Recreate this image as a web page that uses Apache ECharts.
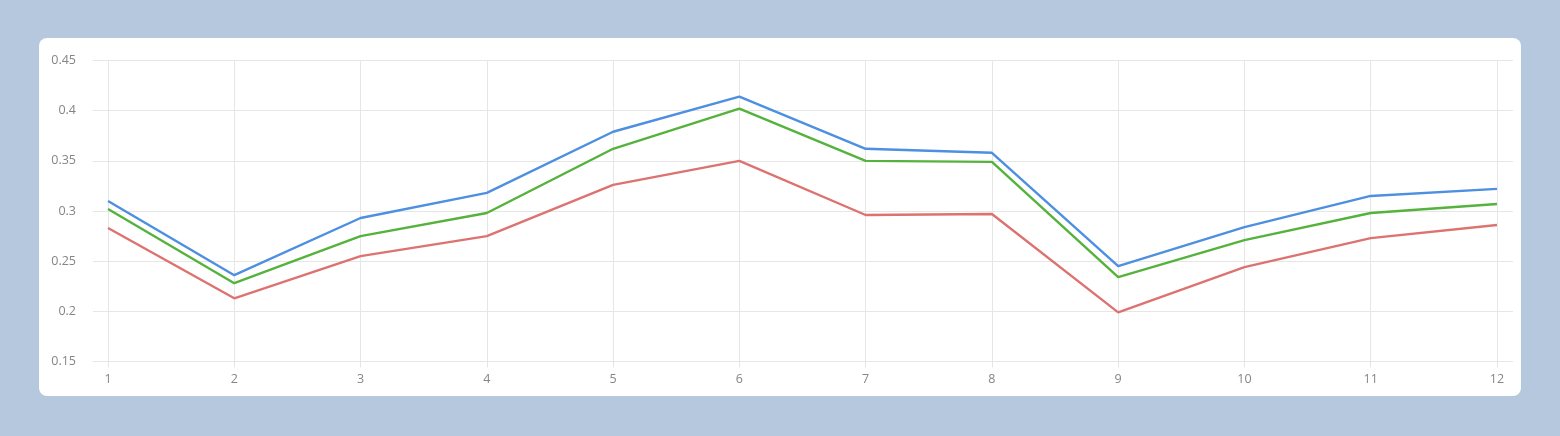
<!DOCTYPE html>
<html>
<head>
<meta charset="utf-8">
<script src="https://cdn.jsdelivr.net/npm/echarts@6/dist/echarts.min.js"></script>
<style>
html,body{margin:0;padding:0;background:#b5c8dd;}
#chart{width:1560px;height:436px;}
</style>
</head>
<body>
<div id="chart"></div>
<script>
const categories = ['1','2','3','4','5','6','7','8','9','10','11','12'];
const blueSeries  = [0.310, 0.236, 0.293, 0.318, 0.379, 0.414, 0.362, 0.358, 0.245, 0.284, 0.315, 0.322];
const greenSeries = [0.302, 0.228, 0.275, 0.298, 0.362, 0.402, 0.350, 0.349, 0.234, 0.271, 0.298, 0.307];
const redSeries   = [0.283, 0.213, 0.255, 0.275, 0.326, 0.350, 0.296, 0.297, 0.199, 0.244, 0.273, 0.286];
const yMin = 0.15, yMax = 0.45, yStep = 0.05;

const chart = echarts.init(document.getElementById('chart'), null, {renderer:'canvas'});
const gridColor = '#e6e6e6';
const labelStyle = {color:'#858585', fontSize:12.5, fontFamily:'"Open Sans", sans-serif'};
const lineSeries = (name, data, color) => ({
  name, type:'line', xAxisIndex:1, yAxisIndex:1, data,
  symbol:'none', lineStyle:{color, width:2.4}, itemStyle:{color}, z:3
});
chart.setOption({
  backgroundColor:'#b5c8dd',
  animation:false,
  graphic:[{
    type:'rect', left:39, top:38, z:-10,
    shape:{width:1482, height:358, r:8},
    style:{fill:'#ffffff'}
  }],
  grid:[
    {left:93, right:47, top:60.5, bottom:74.5},
    {left:108, right:63, top:60.5, bottom:74.5}
  ],
  xAxis:[
    {type:'category', gridIndex:0, data:categories, show:false},
    {type:'category', gridIndex:1, data:categories, boundaryGap:false,
     axisLine:{show:false},
     axisTick:{show:true, length:6, lineStyle:{color:gridColor}},
     axisLabel:Object.assign({margin:11}, labelStyle),
     splitLine:{show:true, lineStyle:{color:gridColor, width:1}}}
  ],
  yAxis:[
    {type:'value', gridIndex:0, min:yMin, max:yMax, interval:yStep,
     axisLine:{show:false}, axisTick:{show:false},
     axisLabel:Object.assign({margin:17, formatter:v=>String(+v.toFixed(2))}, labelStyle),
     splitLine:{show:true, lineStyle:{color:gridColor, width:1}}},
    {type:'value', gridIndex:1, min:yMin, max:yMax, interval:yStep, show:false,
     splitLine:{show:false}}
  ],
  series:[
    lineSeries('red', redSeries, '#dd7370'),
    lineSeries('green', greenSeries, '#55b23c'),
    lineSeries('blue', blueSeries, '#4d8fe0')
  ]
});
</script>
</body>
</html>
